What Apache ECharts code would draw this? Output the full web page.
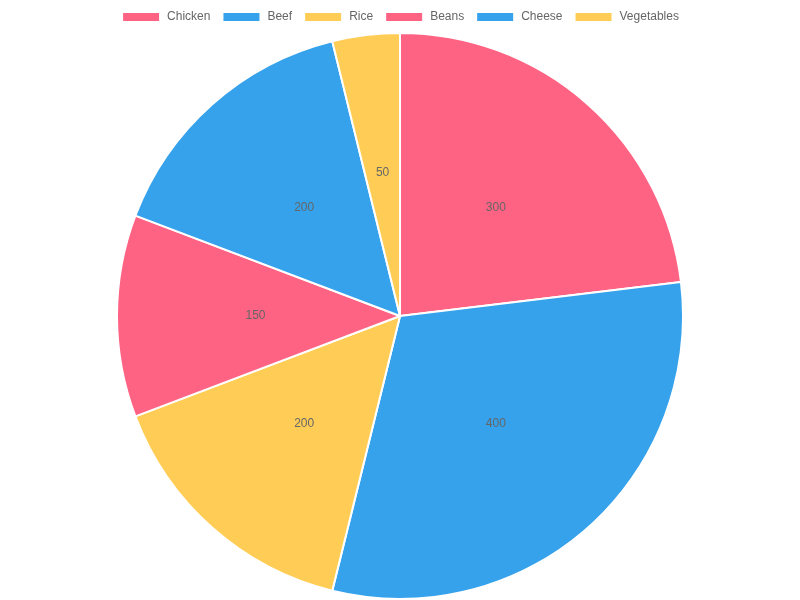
<!DOCTYPE html>
<html>
<head>
<meta charset="utf-8">
<script src="https://cdn.jsdelivr.net/npm/echarts@6/dist/echarts.min.js"></script>
<style>
  html, body { margin: 0; padding: 0; background: #fff; }
  #main { width: 800px; height: 600px; }
</style>
</head>
<body>
<div id="main"></div>
<script>
// 数据
const categories = ['Chicken', 'Beef', 'Rice', 'Beans', 'Cheese', 'Vegetables']
const values = [300, 400, 200, 150, 200, 50]
const colors = ['#ff6384', '#36a2eb', '#ffcd56', '#ff6384', '#36a2eb', '#ffcd56']

const chart = echarts.init(document.getElementById('main'))

let option = {
  animation: false,
  color: colors,
  legend: {
    top: 11,
    padding: 0,
    left: 'center',
    itemWidth: 38,
    itemHeight: 10,
    itemGap: 11,
    icon: 'rect',
    textStyle: {
      color: '#666',
      fontSize: 12,
      padding: [0, 0, 0, 2],
      fontFamily: 'Liberation Sans, Arial, sans-serif'
    },
    data: categories
  },
  series: [{
    type: 'pie',
    center: [400, 316],
    radius: [0, 283],
    startAngle: 90,
    clockwise: true,
    itemStyle: {
      borderColor: '#fff',
      borderWidth: 2
    },
    label: {
      position: 'inside',
      color: '#666',
      fontSize: 12,
      fontFamily: 'Liberation Sans, Arial, sans-serif',
      formatter: '{c}'
    },
    labelLine: { show: false },
    emphasis: { scale: false },
    data: categories.map((name, i) => ({
      name: name,
      value: values[i],
      itemStyle: { color: colors[i] }
    }))
  }]
}
chart.setOption(option)
</script>
</body>
</html>
